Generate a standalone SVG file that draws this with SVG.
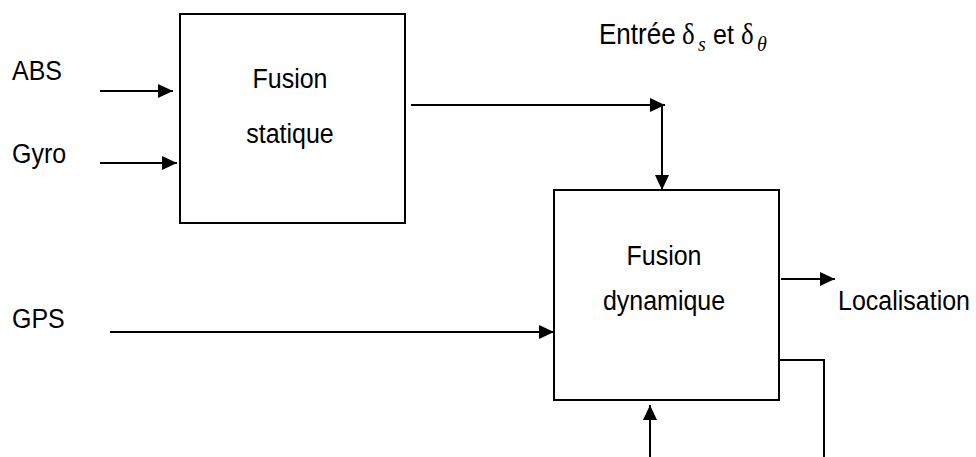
<svg xmlns="http://www.w3.org/2000/svg" width="976" height="457" viewBox="0 0 976 457">
  <defs>
    <marker id="arrow" markerUnits="userSpaceOnUse" markerWidth="16" markerHeight="16" viewBox="0 0 16 16" refX="15" refY="8" orient="auto">
      <path d="M0,1 L15,8 L0,15 Z" fill="#000"/>
    </marker>
    <style>
      .box { fill: #fff; stroke: #000; stroke-width: 2; }
      .wire { fill: none; stroke: #000; stroke-width: 2; }
      .lbl { font-family: "Liberation Sans", Arial, sans-serif; font-size: 25px; fill: #000; }
      .mid { text-anchor: middle; }
      .greek { font-family: "Liberation Serif", "Times New Roman", serif; font-size: 27px; }
      .sub { font-family: "Liberation Serif", "Times New Roman", serif; font-style: italic; font-size: 20px; }
    </style>
  </defs>
  <rect width="976" height="457" fill="#fff"/>

  <!-- input labels (slightly tall, narrow lettering) -->
  <g id="in-abs"><text class="lbl" transform="translate(12 80) scale(1 1.12)">ABS</text></g>
  <g id="in-gyro"><text class="lbl" transform="translate(12 163) scale(1 1.12)">Gyro</text></g>
  <g id="in-gps"><text class="lbl" transform="translate(12 328) scale(1 1.12)">GPS</text></g>

  <!-- static fusion block -->
  <g id="fusion-statique">
    <rect class="box" x="180" y="14" width="225" height="209"/>
    <text class="lbl mid" transform="translate(290 88) scale(1 1.12)">Fusion</text>
    <text class="lbl mid" transform="translate(290 143) scale(1 1.12)">statique</text>
  </g>

  <!-- dynamic fusion block -->
  <g id="fusion-dynamique">
    <rect class="box" x="554" y="190" width="225" height="210"/>
    <text class="lbl mid" transform="translate(664 265) scale(1 1.12)">Fusion</text>
    <text class="lbl mid" transform="translate(664 310) scale(1 1.12)">dynamique</text>
  </g>

  <!-- output label -->
  <g id="out-localisation"><text class="lbl" transform="translate(838 310) scale(1 1.12)">Localisation</text></g>

  <!-- control input label -->
  <g id="entree" transform="translate(0 44) scale(1 1.1)">
    <text class="lbl" x="599" y="0" style="font-size:26px">Entrée</text>
    <text class="greek" x="682" y="0">δ</text>
    <text class="sub" x="698" y="6">s</text>
    <text class="lbl" x="713" y="0">et</text>
    <text class="greek" x="741" y="0">δ</text>
    <text class="sub" x="757" y="6">θ</text>
  </g>

  <!-- connectors -->
  <g id="connectors">
    <line class="wire" x1="100" y1="91" x2="173" y2="91" marker-end="url(#arrow)"/>
    <line class="wire" x1="100" y1="163" x2="177" y2="163" marker-end="url(#arrow)"/>
    <line class="wire" x1="411" y1="105" x2="665" y2="105" marker-end="url(#arrow)"/>
    <line class="wire" x1="662" y1="105" x2="662" y2="190" marker-end="url(#arrow)"/>
    <line class="wire" x1="110" y1="332" x2="554" y2="332" marker-end="url(#arrow)"/>
    <line class="wire" x1="781" y1="279" x2="835" y2="279" marker-end="url(#arrow)"/>
    <line class="wire" x1="650" y1="457" x2="650" y2="405" marker-end="url(#arrow)"/>
    <polyline class="wire" points="779,360 824,360 824,457"/>
  </g>
</svg>
